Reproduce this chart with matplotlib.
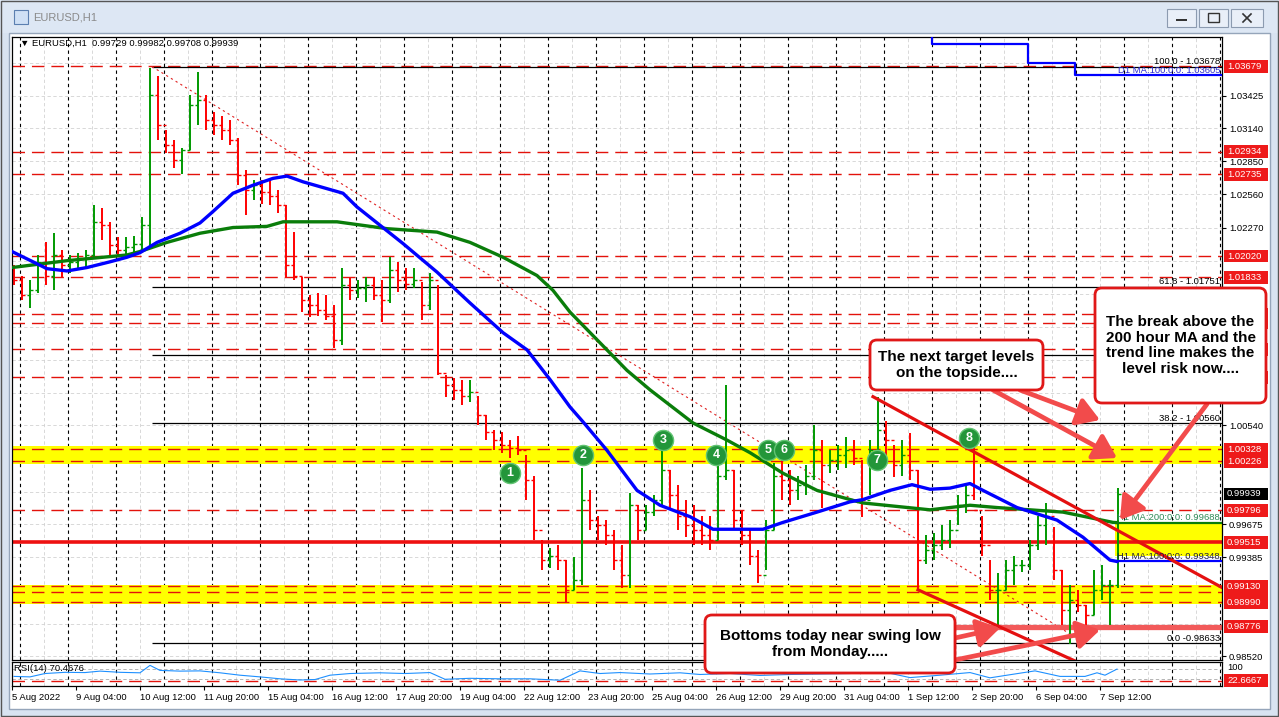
import numpy as np
import matplotlib
matplotlib.use('Agg')
import matplotlib.pyplot as plt
from matplotlib.patches import Rectangle, FancyBboxPatch, FancyArrowPatch
from matplotlib.lines import Line2D
from matplotlib.transforms import Affine2D, blended_transform_factory

plt.rcParams['font.family'] = ['Liberation Sans', 'DejaVu Sans']

W, H = 1279, 717

# EURUSD H1 - one entry every 4 hourly bars
highs = [1.0194, 1.0185, 1.0181, 1.0203, 1.0214, 1.0222, 1.0207, 1.0203, 1.0205, 1.0207,
         1.0247, 1.0244, 1.0232, 1.0219, 1.0219, 1.0220, 1.0236, 1.0367, 1.0360, 1.0312,
         1.0304, 1.0297, 1.0343, 1.0363, 1.0343, 1.0328, 1.0325, 1.0321, 1.0305, 1.0277,
         1.0269, 1.0269, 1.0270, 1.0260, 1.0247, 1.0223, 1.0184, 1.0168, 1.0170, 1.0168,
         1.0159, 1.0192, 1.0183, 1.0181, 1.0184, 1.0183, 1.0181, 1.0201, 1.0197, 1.0192,
         1.0192, 1.0179, 1.0187, 1.0177, 1.0098, 1.0095, 1.0094, 1.0094, 1.0080, 1.0063,
         1.0050, 1.0048, 1.0041, 1.0045, 1.0028, 1.0010, 0.9954, 0.9947, 0.9949, 0.9936,
         0.9939, 1.0017, 0.9997, 0.9975, 0.9971, 0.9962, 0.9949, 0.9995, 0.9984, 0.9984,
         0.9993, 1.0034, 1.0015, 1.0002, 0.9989, 0.9984, 0.9975, 0.9975, 1.0024, 1.0089,
         1.0015, 0.9980, 0.9962, 0.9945, 0.9971, 1.0021, 1.0024, 1.0015, 1.0010, 1.0019,
         1.0054, 1.0041, 1.0032, 1.0037, 1.0044, 1.0041, 1.0024, 1.0041, 1.0079, 1.0058,
         1.0037, 1.0041, 1.0047, 1.0015, 0.9958, 0.9960, 0.9967, 0.9971, 0.9993, 1.0002,
         1.0035, 0.9975, 0.9936, 0.9925, 0.9936, 0.9940, 0.9936, 0.9954, 0.9975, 0.9986,
         0.9965, 0.9927, 0.9914, 0.9910, 0.9897, 0.9927, 0.9932, 0.9919, 0.9999]
lows = [1.0177, 1.0164, 1.0157, 1.0170, 1.0177, 1.0172, 1.0184, 1.0187, 1.0190, 1.0192,
        1.0200, 1.0216, 1.0201, 1.0201, 1.0203, 1.0202, 1.0206, 1.0210, 1.0304, 1.0292,
        1.0279, 1.0274, 1.0295, 1.0317, 1.0312, 1.0308, 1.0304, 1.0299, 1.0264, 1.0238,
        1.0251, 1.0248, 1.0247, 1.0240, 1.0184, 1.0181, 1.0153, 1.0149, 1.0150, 1.0146,
        1.0122, 1.0124, 1.0164, 1.0165, 1.0162, 1.0164, 1.0144, 1.0161, 1.0171, 1.0172,
        1.0174, 1.0146, 1.0155, 1.0098, 1.0079, 1.0076, 1.0072, 1.0074, 1.0054, 1.0041,
        1.0032, 1.0030, 1.0025, 1.0028, 0.9989, 0.9954, 0.9927, 0.9929, 0.9927, 0.9899,
        0.9910, 0.9914, 0.9962, 0.9954, 0.9949, 0.9927, 0.9912, 0.9912, 0.9954, 0.9962,
        0.9975, 0.9984, 0.9980, 0.9962, 0.9956, 0.9949, 0.9949, 0.9945, 0.9954, 1.0006,
        0.9962, 0.9949, 0.9932, 0.9916, 0.9927, 0.9962, 0.9989, 0.9984, 0.9989, 0.9993,
        1.0006, 0.9982, 1.0012, 1.0015, 1.0017, 1.0019, 0.9974, 0.9993, 1.0028, 1.0026,
        1.0009, 1.0010, 1.0006, 0.9910, 0.9933, 0.9936, 0.9945, 0.9947, 0.9967, 0.9977,
        0.9989, 0.9940, 0.9901, 0.9879, 0.9910, 0.9914, 0.9926, 0.9927, 0.9945, 0.9949,
        0.9919, 0.9879, 0.9863, 0.9891, 0.9878, 0.9888, 0.9901, 0.9879, 0.9912]
closes = [1.0181, 1.0168, 1.0172, 1.0197, 1.0185, 1.0203, 1.0194, 1.0197, 1.0200, 1.0203,
          1.0232, 1.0229, 1.0212, 1.0207, 1.0210, 1.0213, 1.0229, 1.0343, 1.0317, 1.0299,
          1.0286, 1.0295, 1.0334, 1.0339, 1.0321, 1.0317, 1.0312, 1.0304, 1.0273, 1.0260,
          1.0264, 1.0258, 1.0255, 1.0247, 1.0194, 1.0185, 1.0164, 1.0159, 1.0155, 1.0150,
          1.0129, 1.0177, 1.0172, 1.0174, 1.0177, 1.0168, 1.0164, 1.0190, 1.0181, 1.0178,
          1.0181, 1.0159, 1.0181, 1.0100, 1.0089, 1.0085, 1.0080, 1.0083, 1.0063, 1.0048,
          1.0041, 1.0037, 1.0034, 1.0032, 1.0006, 0.9962, 0.9936, 0.9940, 0.9936, 0.9910,
          0.9919, 0.9989, 0.9971, 0.9967, 0.9958, 0.9936, 0.9923, 0.9984, 0.9962, 0.9978,
          0.9989, 1.0015, 0.9993, 0.9975, 0.9967, 0.9962, 0.9958, 0.9954, 1.0010, 1.0015,
          0.9971, 0.9958, 0.9940, 0.9923, 0.9962, 1.0010, 1.0006, 0.9997, 1.0002, 1.0010,
          1.0032, 1.0019, 1.0024, 1.0028, 1.0032, 1.0025, 0.9989, 1.0032, 1.0050, 1.0041,
          1.0019, 1.0028, 1.0015, 0.9936, 0.9945, 0.9949, 0.9954, 0.9962, 0.9984, 0.9993,
          0.9980, 0.9949, 0.9910, 0.9910, 0.9927, 0.9932, 0.9932, 0.9949, 0.9967, 0.9975,
          0.9927, 0.9892, 0.9901, 0.9897, 0.9888, 0.9910, 0.9914, 0.9914, 0.99939]
first_open = 1.0190

# moving averages (bar index, price)
ma100_idx = [0, 10.5, 17.5, 27.5, 37.5, 49, 57.5, 64, 72.5, 84, 94, 100.5, 110.5, 120.5, 130.5,
             137.5, 145.5, 165.5, 172.5, 184, 195.5, 212.5, 229, 245.5, 257.5, 269, 279, 285.5,
             297.5, 312.5, 324, 339, 350.5, 375.5, 385.5, 402.5, 419, 425.5, 439, 450, 459,
             469, 479, 485.5, 502.5, 522.5, 535.5, 549, 552.5]
ma100_val = [1.0206, 1.0197, 1.0191, 1.0189, 1.0192, 1.0197, 1.0201, 1.0205, 1.0214, 1.0222,
             1.0231, 1.0241, 1.0257, 1.0264, 1.0270, 1.0272, 1.0267, 1.0257, 1.0245, 1.0229,
             1.0213, 1.0188, 1.0161, 1.0135, 1.0120, 1.0094, 1.0070, 1.0057, 1.0032, 0.9997,
             0.9984, 0.9974, 0.9963, 0.9963, 0.9969, 0.9978, 0.9987, 0.9989, 0.9997, 1.0002,
             0.9998, 0.9999, 1.0003, 0.9997, 0.9982, 0.9971, 0.9956, 0.9936, 0.99348]
ma200_idx = [0, 27.5, 57.5, 64, 77.5, 94, 110.5, 127.5, 135.5, 162.5, 187.5, 212.5, 229, 245.5,
             262.5, 270.5, 279, 307.5, 319, 340.5, 357.5, 369, 385.5, 402.5, 419, 425.5, 459,
             479, 492.5, 509, 525.5, 550.5, 552.5]
ma200_val = [1.0192, 1.0198, 1.0203, 1.0206, 1.0214, 1.0222, 1.0227, 1.0228, 1.0232, 1.0232,
             1.0226, 1.0223, 1.0214, 1.0201, 1.0185, 1.0172, 1.0153, 1.0102, 1.0085, 1.0056,
             1.0041, 1.0030, 1.0012, 0.9997, 0.9989, 0.9986, 0.9980, 0.9984, 0.9982, 0.9980,
             0.9978, 0.9969, 0.99688]
d1ma_idx = [0, 460, 508, 531.5, 605]
d1ma_val = [1.0400, 1.0388, 1.0371, 1.03605, 1.03605]

# RSI(14)
rsi_idx = [1, 9, 16.5, 26.5, 36.5, 44, 54, 64, 69, 74, 84, 94, 104, 114, 124, 134, 144, 151.5,
           159, 169, 184, 196.5, 209, 216.5, 229, 244, 259, 274, 284, 294, 304, 319, 334, 344,
           359, 374, 389, 404, 419, 434, 449, 464, 479, 489, 499, 511.5, 524, 536.5, 542.5,
           546.5, 552.5]
rsi_val = [40, 38, 52, 57, 56, 62, 57, 55, 86, 65, 62, 63, 55, 45, 38, 30, 25, 27, 45, 52, 55,
           52, 56, 28, 32, 30, 30, 24, 63, 52, 56, 50, 55, 48, 52, 44, 48, 50, 52, 62, 35, 45,
           56, 34, 47, 63, 40, 40, 55, 45, 70.47]

# levels (the ones hidden behind the comment box / other tags get no text)
red_levels = [1.03679, 1.02934, 1.02735, 1.02020, 1.01833, 1.00328, 1.00226, 0.99796,
              0.99130, 0.98990]
hidden_levels = [1.01513, 1.01437, 1.01204, 1.00959, 0.99085]
key_level = 0.99515
swing_low = 0.98776
zones = [(1.00200, 1.00355), (0.98975, 0.99145)]
ma_zone = (0.99392, 0.99690)
fib_val = [1.03678, 1.01751, 1.01156, 1.00560, 0.98633]
fib_lab = ['100.0 - 1.03678', '61.8 - 1.01751', '', '38.2 - 1.00560', '0.0 -0.98633']
upper_x, upper_y = [430.5, 605], [1.0079, 0.9912]
lower_x, lower_y = [453, 540], [0.9910, 0.9841]
mark_idx = [249, 285.5, 325.5, 352, 378, 386, 432.5, 478.5]
mark_val = [1.0012, 1.0028, 1.0041, 1.0028, 1.0032, 1.0032, 1.0024, 1.0043]

grid_y = [1.03710, 1.03425, 1.03140, 1.02850, 1.02560, 1.02270, 1.01980, 1.01690, 1.01400,
          1.01115, 1.00825, 1.00540, 1.00250, 0.99960, 0.99675, 0.99385, 0.99095, 0.98805, 0.98520]
yticks = [1.03425, 1.03140, 1.02850, 1.02560, 1.02270, 1.00540, 0.99675, 0.99385, 0.98520]
xtick_idx = [0, 32, 64, 96, 128, 160, 192, 224, 256, 288, 320, 352, 384, 416, 448, 480, 512, 544]
xtick_lab = ['5 Aug 2022', '9 Aug 04:00', '10 Aug 12:00', '11 Aug 20:00', '15 Aug 04:00',
             '16 Aug 12:00', '17 Aug 20:00', '19 Aug 04:00', '22 Aug 12:00', '23 Aug 20:00',
             '25 Aug 04:00', '26 Aug 12:00', '29 Aug 20:00', '31 Aug 04:00', '1 Sep 12:00',
             '2 Sep 20:00', '6 Sep 04:00', '7 Sep 12:00']

FS = 6.8

fig = plt.figure(figsize=(W / 100, H / 100), dpi=100)
fig.patch.set_facecolor('#d8e3f1')
px = Affine2D().scale(1, -1).translate(0, H)   # screen pixels, origin top-left


def fig_rect(x0, y0, x1, y1, **kw):
    r = Rectangle((x0, y0), x1 - x0, y1 - y0, transform=px, **kw)
    fig.add_artist(r)
    return r


# window chrome
fig_rect(0, 0, W, 33, fc='#dde7f4', ec='none', zorder=-5)
fig_rect(9, 33, 1270, 709, fc='white', ec='#95a5ba', lw=1, zorder=-4)
fig_rect(14, 10, 28, 24, fc='#cfe0f5', ec='#5b7fb0', lw=0.8, zorder=1)
fig.text(33 / W, 1 - 18 / H, 'EURUSD,H1', color='#8a8a8a', fontsize=8, va='center')
for x0, x1 in [(1167, 1196), (1199, 1228), (1231, 1263)]:
    fig_rect(x0, 9, x1, 27, fc='#e9eff8', ec='#8c9bb0', lw=0.8, zorder=1)
fig_rect(1176, 19, 1187, 21, fc='#333333', ec='none', zorder=2)
fig_rect(1208, 13, 1219, 22, fc='none', ec='#333333', lw=1, zorder=2)
fig.add_artist(Line2D([1243, 1251], [14, 22], transform=px, color='#333333', lw=1.2))
fig.add_artist(Line2D([1243, 1251], [22, 14], transform=px, color='#333333', lw=1.2))
fig_rect(0.5, 0.5, W - 1, H - 1, fc='none', ec='#555555', lw=1, zorder=30)

ax = fig.add_axes([12 / W, 1 - 660 / H, 1210 / W, 623 / H])
rsi = fig.add_axes([12 / W, 1 - 686 / H, 1210 / W, 24 / H])
ax.set_xlim(0, 605)
ax.set_ylim(0.98486, 1.03937)
rsi.set_xlim(0, 605)
rsi.set_ylim(0, 100)
for a in (ax, rsi):
    for s in a.spines.values():
        s.set_linewidth(0.9)

# grid and day separators
for i in range(16, 606, 24):
    ax.axvline(i, color='#d2d2d2', lw=0.6, ls=(0, (4, 3)), zorder=0.5)
    rsi.axvline(i, color='#d2d2d2', lw=0.6, ls=(0, (4, 3)), zorder=0.5)
for t in grid_y:
    ax.axhline(t, color='#d2d2d2', lw=0.6, ls=(0, (4, 3)), zorder=0.5)
for i in range(4, 606, 24):
    ax.axvline(i, color='black', lw=0.8, ls=(0, (3, 3)), zorder=1)
    rsi.axvline(i, color='black', lw=0.8, ls=(0, (3, 3)), zorder=1)

# zones and levels
for lo, hi in zones:
    ax.axhspan(lo, hi, color='#ffff00', lw=0, zorder=1.2)
ax.fill_between([551.5, 605], ma_zone[0], ma_zone[1], color='#ffff00', lw=0, zorder=1.2)
for lv in red_levels + hidden_levels:
    ax.axhline(lv, color='#e3120b', lw=1.0, ls=(0, (9, 5)), zorder=1.5)
ax.hlines(fib_val, 70, 605, color='black', lw=0.9, zorder=1.6)
ax.plot([70, 536.5], [fib_val[0], fib_val[-1]], color='#e02020', lw=0.8, ls=(0, (2, 3)), zorder=1.6)
for v, lab in zip(fib_val, fib_lab):
    if lab:
        ax.text(604, v + 0.00004, lab, ha='right', va='bottom', fontsize=FS, zorder=4)
ax.axhline(key_level, color='#ee1111', lw=2.6, zorder=2)
ax.plot([346.5, 605], [swing_low, swing_low], color='#f25a5a', lw=3.8, solid_capstyle='butt', zorder=2)

# price bars
idx = 1 + 4 * np.arange(len(closes))
opens = [first_open] + closes[:-1]
cols = ['#009900' if c >= o else '#ff0000' for o, c in zip(opens, closes)]
ax.vlines(idx, lows, highs, colors=cols, lw=1.4, zorder=2.5)
ax.hlines(opens, idx - 1.5, idx, colors=cols, lw=1, zorder=2.5)
ax.hlines(closes, idx, idx + 1.5, colors=cols, lw=1, zorder=2.5)

# moving averages
ax.plot(ma200_idx, ma200_val, color='#0a7d0a', lw=2.4, zorder=3)
ax.plot([ma200_idx[-1], 605], [ma200_val[-1]] * 2, color='#0a7d0a', lw=1.6, zorder=3)
ax.plot(ma100_idx, ma100_val, color='#0000ff', lw=2.4, zorder=3.1)
ax.plot([ma100_idx[-1], 605], [ma100_val[-1]] * 2, color='#0000ff', lw=1.6, zorder=3.1)
ax.plot(d1ma_idx, d1ma_val, color='#0000ff', lw=1.6, drawstyle='steps-post', zorder=3)
ax.text(604, 1.03605 + 0.00002, 'D1 MA:100:0:0: 1.03605', color='#2a2ad0', ha='right', va='bottom', fontsize=FS, zorder=4)
ax.text(604, 0.99688 + 0.00004, 'H1 MA:200:0:0: 0.99688', color='#2e8b57', ha='right', va='bottom', fontsize=FS, zorder=4)
ax.text(604, 0.99348 + 0.00004, 'H1 MA:100:0:0: 0.99348', color='#202040', ha='right', va='bottom', fontsize=FS, zorder=4)

# trend channel
ax.plot(upper_x, upper_y, color='#e41010', lw=2.3, zorder=3.5)
ax.plot(lower_x, lower_y, color='#e41010', lw=2.3, zorder=3.5)

# numbered touches
ax.scatter(mark_idx, mark_val, s=210, c='#23963a', edgecolors='#63c474', linewidths=1, zorder=6)
for n, (mi, mv) in enumerate(zip(mark_idx, mark_val), start=1):
    ax.text(mi, mv, str(n), color='white', fontsize=9, fontweight='bold', ha='center', va='center', zorder=7)

ax.text(8 / 1210, 1 - 6 / 623, '\u25bc EURUSD,H1  0.99729 0.99982 0.99708 0.99939', transform=ax.transAxes,
        fontsize=FS, va='center', ha='left', zorder=8)

# axes ticks
ax.set_xticks([])
ax.yaxis.tick_right()
ax.set_yticks(yticks, [f'{t:.5f}' for t in yticks])
ax.tick_params(axis='y', labelsize=FS, length=3, width=0.8, pad=2)

# RSI panel
rsi.axhline(70, color='#a9a9a9', lw=0.6, ls=(0, (4, 3)))
rsi.axhline(30, color='#a9a9a9', lw=0.6, ls=(0, (4, 3)))
rsi.axhline(22.6667, color='#e3120b', lw=1.0, ls=(0, (9, 5)))
rsi.plot(rsi_idx, rsi_val, color='#1e90ff', lw=0.8)
rsi.text(0.002, 0.72, 'RSI(14) 70.4676', transform=rsi.transAxes, fontsize=FS, va='center')
rsi.set_yticks([])
rsi.set_xticks(xtick_idx, xtick_lab, ha='left')
rsi.tick_params(axis='x', labelsize=FS, length=3, width=0.8, pad=2)

# right-hand price tags
tr_main = blended_transform_factory(Affine2D(), ax.transData)
tr_rsi = blended_transform_factory(Affine2D(), rsi.transData)


def price_tag(tr, v, txt, fc, half, z=4):
    fig.add_artist(Rectangle((1224, v - half), 44, 2 * half, transform=tr, fc=fc, ec='none', zorder=z))
    if txt:
        fig.text(1227, v, txt, transform=tr, color='white', fontsize=FS, va='center', ha='left', zorder=z + 0.1)


for lv in hidden_levels:
    price_tag(tr_main, lv, '', '#ee1a1a', 0.00056, z=3.8)
for lv in red_levels:
    price_tag(tr_main, lv, f'{lv:.5f}', '#ee1a1a', 0.00056)
price_tag(tr_main, key_level, f'{key_level:.5f}', '#ee1a1a', 0.00056)
price_tag(tr_main, swing_low, f'{swing_low:.5f}', '#ee1a1a', 0.00056)
price_tag(tr_main, closes[-1], f'{closes[-1]:.5f}', 'black', 0.00056)
price_tag(tr_rsi, 22.6667, '22.6667', '#ee1a1a', 27)
fig.text(1227 / W, 1 - 668 / H, '100', fontsize=FS, va='center', ha='left')


# comment boxes
def note_box(x0, y0, x1, y1, txt):
    fig.add_artist(FancyBboxPatch((x0, y0), x1 - x0, y1 - y0, boxstyle='round,pad=0,rounding_size=7',
                                  transform=px, fc='white', ec='#e01818', lw=2, zorder=10))
    fig.text((x0 + x1) / 2 / W, 1 - (y0 + y1) / 2 / H, txt, ha='center', va='center', fontsize=11,
             fontweight='bold', linespacing=1.17, zorder=11)


def arrow(p0, p1):
    fig.add_artist(FancyArrowPatch(p0, p1, transform=px, arrowstyle='-|>,head_length=0.4,head_width=0.25',
                                   mutation_scale=34, lw=3.4, color='#f24b4b', shrinkA=0, shrinkB=0, zorder=9))


arrow((1020, 390), (1100, 420))
arrow((993, 390), (1117, 458))
arrow((1207, 404), (1120, 520))
arrow((955, 638), (1000, 628))
arrow((955, 660), (1100, 630))
note_box(870, 340, 1043, 390, 'The next target levels\non the topside....')
note_box(1095, 288, 1266, 403, 'The break above the\n200 hour MA and the\ntrend line makes the\nlevel risk now....')
note_box(705, 615, 955, 673, 'Bottoms today near swing low\nfrom Monday.....')

fig.savefig('out.png', dpi=100)
